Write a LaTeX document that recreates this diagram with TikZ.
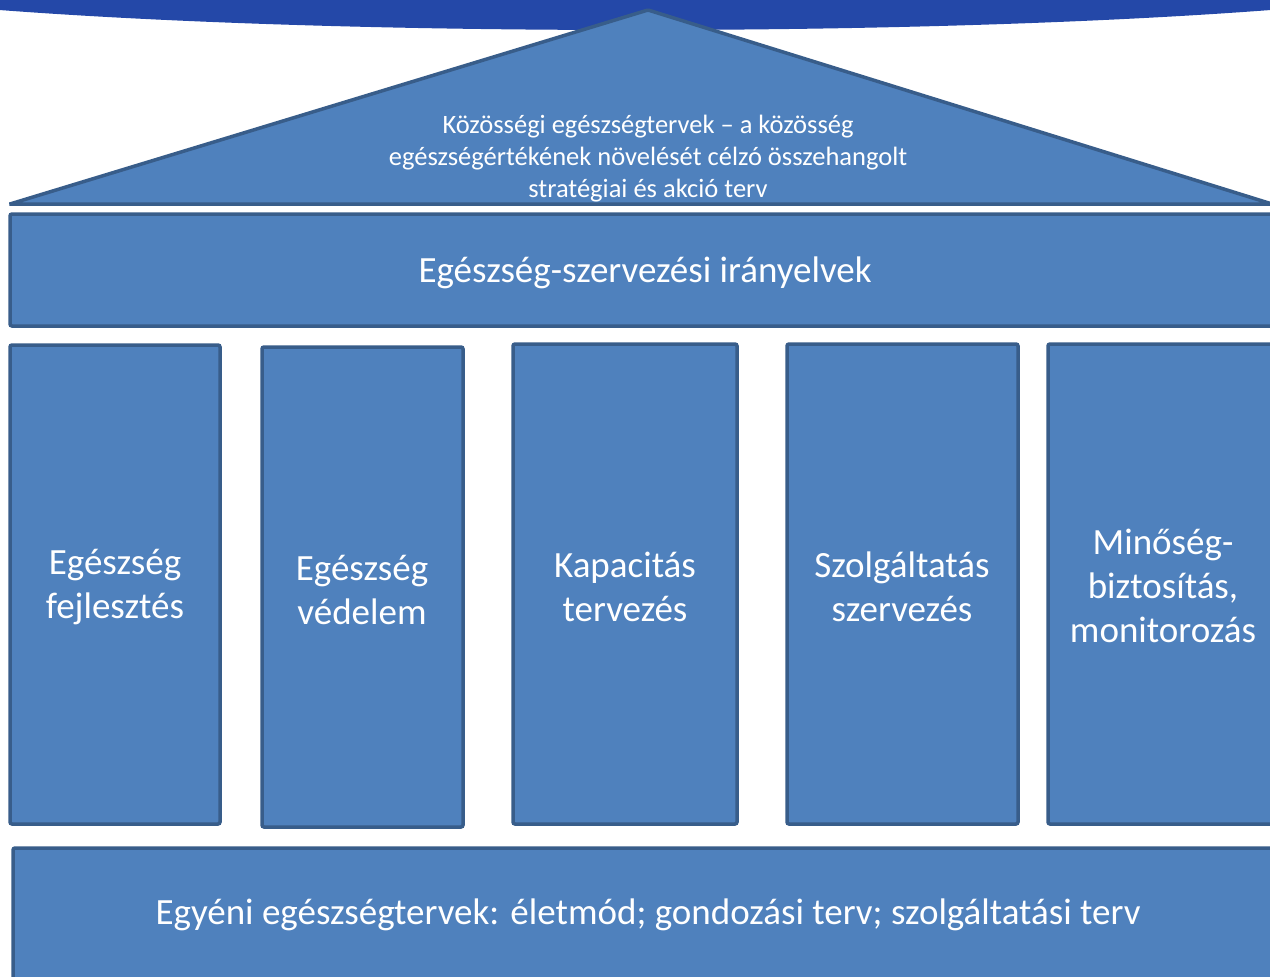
\documentclass[tikz,border=0pt]{standalone}
\usepackage{fontspec}
\setmainfont{Carlito}
\definecolor{fillb}{HTML}{4F81BD}
\definecolor{lineb}{HTML}{385D8A}
\definecolor{banner}{HTML}{2448A8}
\tikzset{
  blk/.style={fill=fillb, draw=lineb, line width=3.5pt, rounded corners=2pt},
  lbl/.style={text=white, align=center, font=\fontsize{37}{44}\selectfont},
  small/.style={text=white, align=center, font=\fontsize{26.5}{32}\selectfont},
}
\begin{document}
\begin{tikzpicture}[x=1pt,y=-1pt]
\useasboundingbox (0,0) rectangle (1270,977);
\clip (0,0) rectangle (1270,977);
\fill[white] (0,0) rectangle (1270,977);
% banner
\fill[banner] (635,-38.5) ellipse [x radius=900, y radius=68.5];
% roof
\draw[blk, rounded corners=1pt] (10,204) -- (648,10) -- (1272,204) -- cycle;
\node[small] (roof) at (648,159) {Közösségi egészségtervek – a közösség\\egészségértékének növelését célzó összehangolt\\stratégiai és akció terv};
% top bar
\draw[blk] (10,214) rectangle (1290,326);
\node[lbl] (top) at (645,273) {Egészség-szervezési irányelvek};
% pillars
\draw[blk] (10,345) rectangle (220,824);
\node[lbl] (p1) at (115,587) {Egészség\\fejlesztés};
\draw[blk] (262,347) rectangle (463,827);
\node[lbl] (p2) at (362,590) {Egészség\\védelem};
\draw[blk] (513,344) rectangle (737,824);
\node[lbl] (p3) at (625,587) {Kapacitás\\tervezés};
\draw[blk] (787,344) rectangle (1018,824);
\node[lbl] (p4) at (902,587) {Szolgáltatás\\szervezés};
\draw[blk] (1048,344) rectangle (1290,824);
\node[lbl] (p5) at (1163,586) {Minőség-\\biztosítás,\\monitorozás};
% bottom bar
\draw[blk] (13,848) rectangle (1290,990);
\node[lbl] (bot) at (648,915) {Egyéni egészségtervek: életmód; gondozási terv; szolgáltatási terv};
\end{tikzpicture}
\end{document}
